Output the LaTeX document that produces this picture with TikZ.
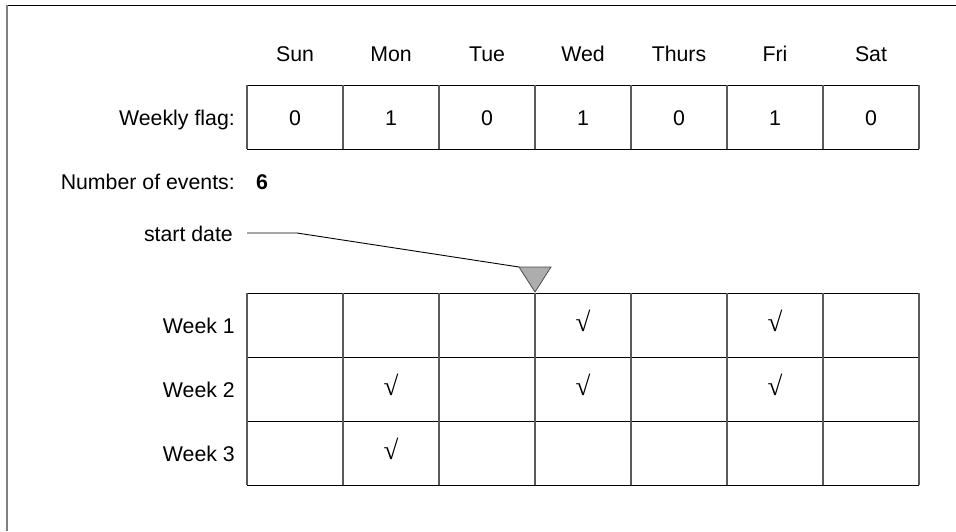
\documentclass[tikz,border=0pt]{standalone}
\usepackage{fontspec}
\setmainfont{Liberation Sans}
\newfontfamily\chkfont{Liberation Serif}
\begin{document}
\begin{tikzpicture}[x=1pt,y=-1pt,
  lbl/.style={font=\fontsize{21.3}{24}\selectfont, inner sep=0pt, anchor=base},
  rlbl/.style={lbl, anchor=base east},
  chk/.style={font=\chkfont\fontsize{27}{30}\selectfont, inner sep=0pt, anchor=base},
  hline/.style={draw=black, line width=1pt},
  vline/.style={draw=black!65, line width=1.3pt}]
\useasboundingbox (0,0) rectangle (956,531);
% frame
\draw[black, line width=1pt] (7,5) -- (956,5);
\draw[black!50, line width=2pt] (7,5) -- (7,531);
% day labels
\foreach \d [count=\i from 0] in {Sun,Mon,Tue,Wed,Thurs,Fri,Sat}
  \node[lbl] (day\i) at ({295+96*\i},61) {\d};
% weekly flag row
\node[rlbl] (wf) at (235,125) {Weekly flag:};
\foreach \v [count=\i from 0] in {0,1,0,1,0,1,0}
  \node[lbl] (f\i) at ({295+96*\i},125) {\v};
\draw[hline] (247,85) -- (919,85) (247,149) -- (919,149);
\foreach \i in {0,...,7}
  \draw[vline] ({247+96*\i},85) -- ({247+96*\i},149);
% number of events
\node[rlbl] (ne) at (235,189) {Number of events:};
\node[lbl, font=\fontsize{21.3}{24}\selectfont\bfseries] (nv) at (262,189) {6};
% start date
\node[rlbl] (sd) at (233,241) {start date};
\coordinate (sdA) at (247,233);
\coordinate (sdB) at (297,233);
\coordinate (triL) at (519,267);
\coordinate (triR) at (551,267);
\coordinate (triT) at (535,292);
\draw[black, line width=0.9pt] (sdA) -- (sdB) -- (triL);
\filldraw[fill=black!32, draw=black!70, line width=0.8pt] (triL) -- (triR) -- (triT) -- cycle;
% weeks grid
\foreach \w [count=\j from 0] in {Week 1,Week 2,Week 3}
  \node[rlbl] (wk\j) at (235,{333+64*\j}) {\w};
\foreach \j in {0,...,3}
  \draw[hline] (247,{293+64*\j}) -- (919,{293+64*\j});
\foreach \i in {0,...,7}
  \draw[vline] ({247+96*\i},293) -- ({247+96*\i},485);
% checks
\node[chk] (c13) at (583,331) {√};
\node[chk] (c15) at (775,331) {√};
\node[chk] (c21) at (391,395) {√};
\node[chk] (c23) at (583,395) {√};
\node[chk] (c25) at (775,395) {√};
\node[chk] (c31) at (391,459) {√};
\end{tikzpicture}
\end{document}
